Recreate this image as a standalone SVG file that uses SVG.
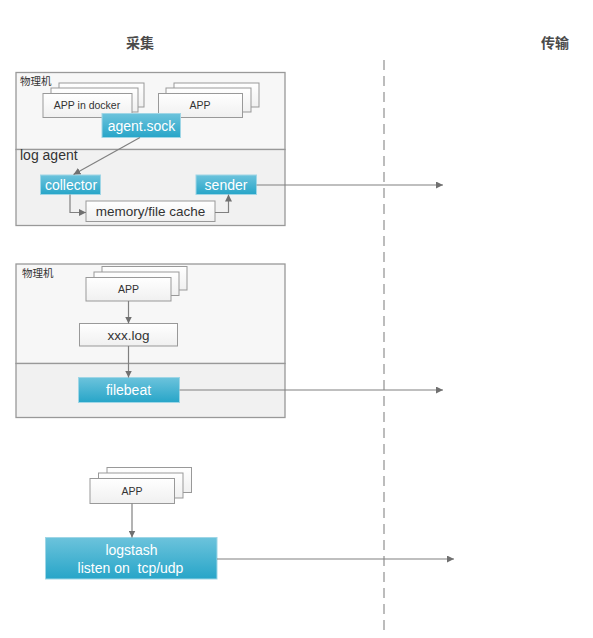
<svg xmlns="http://www.w3.org/2000/svg" width="593" height="638" viewBox="0 0 593 638">
<defs>
<linearGradient id="blue" x1="0" y1="0" x2="0" y2="1">
<stop offset="0" stop-color="#6cc3dc"/>
<stop offset="1" stop-color="#27a5c8"/>
</linearGradient>
<linearGradient id="white" x1="0" y1="0" x2="0" y2="1">
<stop offset="0" stop-color="#ffffff"/>
<stop offset="1" stop-color="#f0f0f0"/>
</linearGradient>
<marker id="arr" viewBox="0 0 10 10" refX="10" refY="5" markerWidth="7" markerHeight="7" markerUnits="userSpaceOnUse" orient="auto">
<path d="M0,0 L10,5 L0,10 z" fill="#707070"/>
</marker>
</defs>
<style>
text{font-family:"Liberation Sans","Noto Sans CJK SC",sans-serif;fill:#333}
.cn{font-family:"Noto Sans CJK SC",sans-serif}
.hd{font-size:14px;font-weight:bold;fill:#4a4a4a;text-anchor:middle}
.frame{fill:#f7f7f7;stroke:#999;stroke-width:1.3}
.low{fill:#f1f1f1;stroke:#999;stroke-width:1.3}
.card{fill:url(#white);stroke:#999;stroke-width:1}
.blue{fill:url(#blue);stroke:#9fd6e6;stroke-width:1}
.bt{fill:#fff;font-size:14px;text-anchor:middle}
.ct{font-size:10.5px;text-anchor:middle}
.mt{font-size:13.5px;text-anchor:middle}
.lab{font-size:10.5px}
.conn{fill:none;stroke:#808080;stroke-width:1.2}
.arrow{marker-end:url(#arr)}
</style>

<g id="headers">
<text class="hd cn" x="140" y="48">采集</text>
<text class="hd cn" x="555" y="48">传输</text>
</g>

<g id="divider">
<line x1="384" y1="60" x2="384" y2="630" stroke="#999" stroke-width="1.3" stroke-dasharray="10,6"/>
</g>

<g id="host1">
<rect class="frame" x="16" y="72.5" width="269" height="77"/>
<rect class="low" x="16" y="149.5" width="269" height="76"/>
<text class="lab cn" x="20" y="84.5">物理机</text>
<text x="20" y="160" font-size="14">log agent</text>
</g>

<g id="app-docker">
<rect class="card" x="59" y="83" width="85" height="24"/>
<rect class="card" x="51" y="88" width="87" height="24"/>
<rect class="card" x="43" y="93.5" width="89" height="24"/>
<text class="ct" x="87" y="109">APP in docker</text>
</g>

<g id="app1">
<rect class="card" x="174" y="83" width="85" height="24"/>
<rect class="card" x="166" y="88" width="85" height="24"/>
<rect class="card" x="158.5" y="93.5" width="84" height="24"/>
<text class="ct" x="200" y="109">APP</text>
</g>

<g id="agent-sock">
<rect class="blue" x="102" y="113.5" width="78.5" height="24"/>
<text class="bt" x="141.5" y="130.5" font-size="13.5">agent.sock</text>
</g>

<g id="collector">
<rect class="blue" x="40.5" y="175" width="60" height="19.5"/>
<text class="bt" x="71" y="189.5">collector</text>
</g>

<g id="sender">
<rect class="blue" x="196" y="175" width="60.5" height="19.5"/>
<text class="bt" x="226" y="189.5">sender</text>
</g>

<g id="cache">
<rect class="card" x="86" y="201" width="129" height="20.5"/>
<text class="mt" x="150.5" y="216">memory/file cache</text>
</g>

<g id="host2">
<rect class="frame" x="16" y="264" width="269" height="99.5"/>
<rect class="low" x="16" y="363.5" width="269" height="54"/>
<text class="lab cn" x="22" y="276.5">物理机</text>
</g>

<g id="app2">
<rect class="card" x="102" y="266.5" width="85" height="23.5"/>
<rect class="card" x="94" y="272" width="85" height="23.5"/>
<rect class="card" x="86" y="277.5" width="85" height="23.5"/>
<text class="ct" x="128.5" y="293">APP</text>
</g>

<g id="xxx-log">
<rect class="card" x="79.5" y="323.5" width="98" height="22.5"/>
<text class="mt" x="128.5" y="339.5" font-size="12.5">xxx.log</text>
</g>

<g id="filebeat">
<rect class="blue" x="78.5" y="377.5" width="101" height="25"/>
<text class="bt" x="128.5" y="395" font-size="14.5">filebeat</text>
</g>

<g id="app3">
<rect class="card" x="107" y="467.5" width="84.5" height="25"/>
<rect class="card" x="98.5" y="473" width="84.5" height="25"/>
<rect class="card" x="90" y="478.5" width="84.5" height="25"/>
<text class="ct" x="132" y="495">APP</text>
</g>

<g id="logstash">
<rect class="blue" x="45.5" y="537.5" width="171.5" height="41.5"/>
<text class="bt" x="131.5" y="554.5" font-size="14.5">logstash</text>
<text class="bt" x="130.5" y="573" font-size="14.5" xml:space="preserve">listen on  tcp/udp</text>
</g>

<g id="connectors">
<path class="conn arrow" d="M140,137.5 L73.5,174.5"/>
<path class="conn arrow" d="M70,194.5 V212.5 H86"/>
<path class="conn arrow" d="M215,212.5 H228.5 V194.5"/>
<path class="conn arrow" d="M256.5,185 H443"/>
<path class="conn arrow" d="M128.5,301 V323.5"/>
<path class="conn arrow" d="M128.5,346 V377.5"/>
<path class="conn arrow" d="M179.5,390 H443"/>
<path class="conn arrow" d="M132,503.5 V537.5"/>
<path class="conn arrow" d="M217,559 H454"/>
</g>
</svg>
